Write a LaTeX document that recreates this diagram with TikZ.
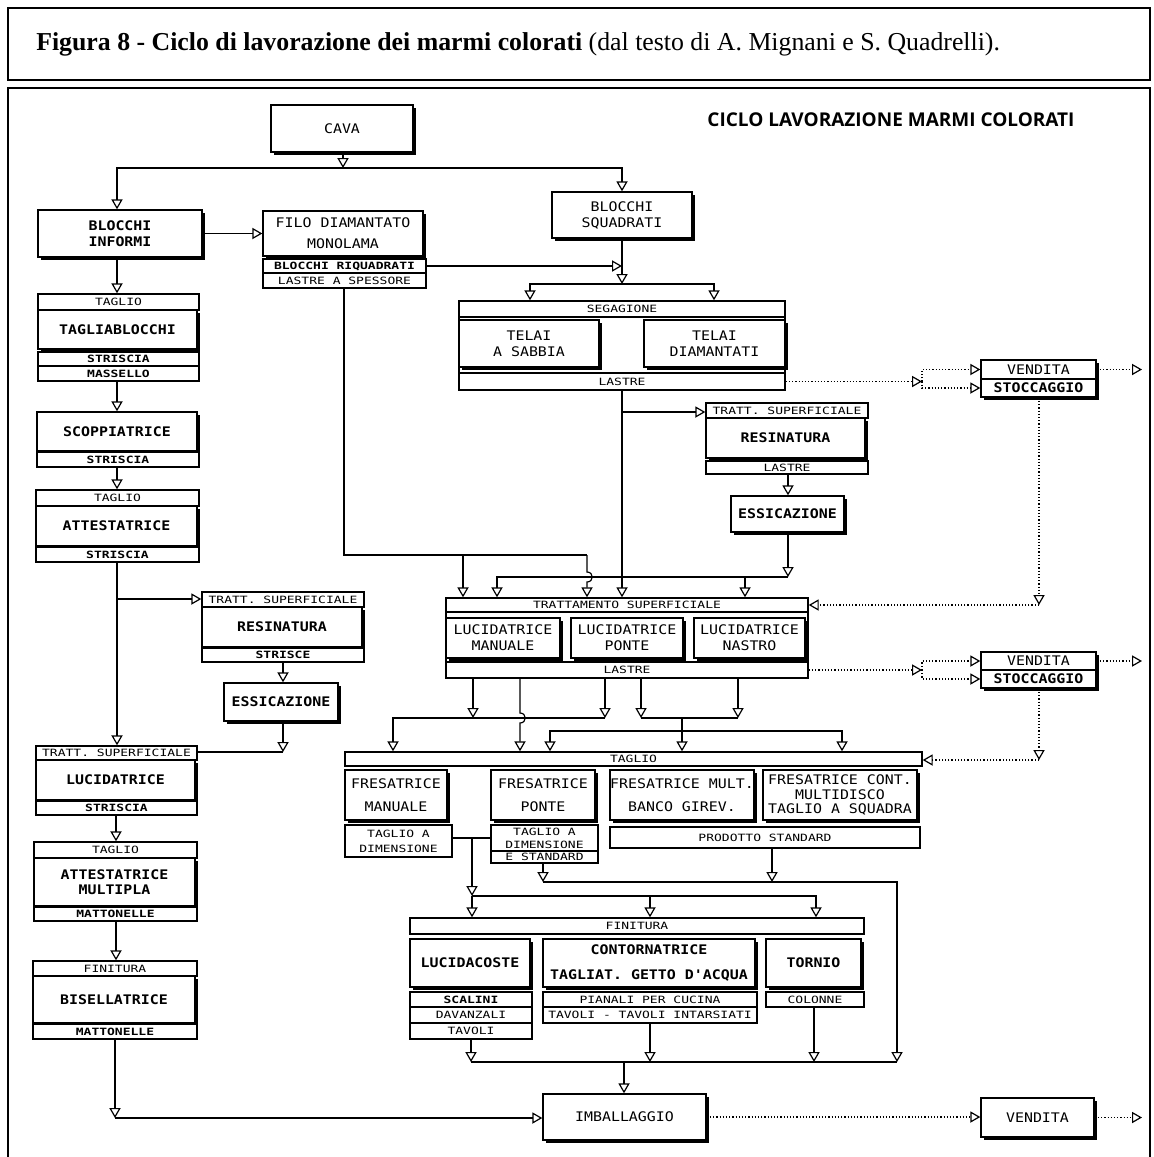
\documentclass[tikz,border=0pt]{standalone}
\usepackage{fontspec}
\setmainfont{Liberation Serif}
\newfontfamily\labfont[FakeStretch=1.13]{DejaVu Sans Mono}
\newfontfamily\sublabfont[FakeStretch=1.3]{DejaVu Sans Mono}
\newfontfamily\headfont{Open Sans}
\usetikzlibrary{arrows.meta,shadows}

% \mkbox{name}{style}{x1}{y1}{x2}{y2}{text}: box given by its corners
\newcommand\mkbox[7]{%
  \pgfmathsetmacro\mkw{(#5-#3)/2}%
  \pgfmathsetmacro\mkh{(#6-#4)/2}%
  \node[#2, minimum width=\mkw pt, minimum height=\mkh pt] (#1) at ({(#3+#5)/2},{(#4+#6)/2}) {#7};}

\begin{document}
\begin{tikzpicture}[x=0.5pt,y=-0.5pt,line width=0.6pt,
  base/.style={draw, fill=white, inner sep=0pt, align=center, line width=0.7pt},
  mainbox/.style={base, general shadow={fill=black, shadow xshift=1.7pt, shadow yshift=-1.7pt},
    font=\labfont\fontsize{6.6}{8}\selectfont},
  mainboxb/.style={mainbox, font=\labfont\bfseries\fontsize{6.6}{8}\selectfont},
  rowbox/.style={base, font=\sublabfont\fontsize{5}{6.5}\selectfont},
  rowboxb/.style={rowbox, font=\sublabfont\bfseries\fontsize{5}{6.5}\selectfont},
  arr/.style={-{Triangle[open,length=5pt,width=5.6pt]}},
  dotl/.style={dash pattern=on 0.6pt off 1pt},
  frame/.style={line width=0.9pt}]
\useasboundingbox (0,0) rectangle (1154,1157);

% frames and headings
\draw[frame] (8,8) rectangle (1150,80);
\draw[frame] (8,1157) -- (8,88) -- (1150,88) -- (1150,1157);
\node[anchor=west, font=\fontsize{12.9}{14}\selectfont] (title) at (29,44)
  {\textbf{Figura 8 - Ciclo di lavorazione dei marmi colorati} (dal testo di A. Mignani e S. Quadrelli).};
\node[font=\headfont\bfseries\fontsize{9.5}{10}\selectfont] (ciclo) at (891,120) {CICLO LAVORAZIONE MARMI COLORATI};

% top row
\mkbox{cava}{mainbox}{271}{105}{413}{152}{CAVA}
\mkbox{bi}{mainboxb}{38}{210}{202}{257}{BLOCCHI\\INFORMI}
\mkbox{filo}{mainbox}{263}{211}{423}{256}{FILO DIAMANTATO\\[2.5pt]MONOLAMA}
\mkbox{filo1}{rowboxb}{263}{259}{426}{273}{BLOCCHI RIQUADRATI}
\mkbox{filo2}{rowbox}{263}{273}{426}{288}{LASTRE A SPESSORE}
\mkbox{bs}{mainbox}{552}{192}{692}{238}{BLOCCHI\\SQUADRATI}

% segagione
\mkbox{seg}{base}{459}{301}{785}{390}{}
\mkbox{seghd}{rowbox}{459}{301}{785}{317}{SEGAGIONE}
\mkbox{telaiS}{mainbox}{459}{320}{599}{367}{TELAI\\A SABBIA}
\mkbox{telaiD}{mainbox}{644}{320}{785}{367}{TELAI\\DIAMANTATI}
\mkbox{segft}{rowbox}{459}{373}{785}{390}{LASTRE}

% resinatura (lastre)
\mkbox{res2h}{rowbox}{706}{403}{868}{418}{TRATT. SUPERFICIALE}
\mkbox{res2}{mainboxb}{706}{418}{865}{458}{RESINATURA}
\mkbox{res2f}{rowbox}{706}{461}{868}{474}{LASTRE}
\mkbox{ess2}{mainboxb}{731}{496}{844}{532}{ESSICAZIONE}

% sale / storage
\mkbox{ven1}{mainbox}{981}{360}{1096}{379}{VENDITA}
\mkbox{sto1}{mainboxb}{981}{379}{1096}{397}{STOCCAGGIO}
\mkbox{ven2}{mainbox}{981}{652}{1096}{670}{VENDITA}
\mkbox{sto2}{mainboxb}{981}{670}{1096}{688}{STOCCAGGIO}

% trattamento superficiale
\mkbox{tatt}{base}{446}{598}{808}{678}{}
\mkbox{tatthd}{rowbox}{446}{598}{808}{612}{TRATTAMENTO SUPERFICIALE}
\mkbox{lm}{mainbox}{446}{618}{560}{658}{LUCIDATRICE\\MANUALE}
\mkbox{lp}{mainbox}{571}{618}{683}{658}{LUCIDATRICE\\PONTE}
\mkbox{ln}{mainbox}{694}{618}{805}{658}{LUCIDATRICE\\NASTRO}
\mkbox{tattft}{rowbox}{446}{662}{808}{678}{LASTRE}

% taglio
\mkbox{taglio}{rowbox}{345}{752}{922}{766}{TAGLIO}
\mkbox{fm}{mainbox}{345}{770}{447}{820}{FRESATRICE\\[3.5pt]MANUALE}
\mkbox{fp}{mainbox}{491}{770}{595}{820}{FRESATRICE\\[3.5pt]PONTE}
\mkbox{fmb}{mainbox}{610}{770}{754}{820}{FRESATRICE MULT.\\[3.5pt]BANCO GIREV.}
\mkbox{fcm}{mainbox}{763}{770}{917}{820}{FRESATRICE CONT.\\[-0.7pt]MULTIDISCO\\[-0.7pt]TAGLIO A SQUADRA}
\mkbox{fms}{rowbox}{345}{825}{452}{857}{TAGLIO A\\[1pt]DIMENSIONE}
\mkbox{fps1}{rowbox}{491}{825}{598}{851}{TAGLIO A\\DIMENSIONE}
\mkbox{fps2}{rowbox}{491}{851}{598}{863}{E STANDARD}
\mkbox{ps}{rowbox}{610}{827}{920}{848}{PRODOTTO STANDARD}

% finitura
\mkbox{fin}{rowbox}{410}{918}{864}{934}{FINITURA}
\mkbox{lc}{mainboxb}{410}{939}{530}{987}{LUCIDACOSTE}
\mkbox{ct}{mainboxb}{543}{939}{755}{987}{CONTORNATRICE\\[4.5pt]TAGLIAT. GETTO D'ACQUA}
\mkbox{to1}{mainboxb}{766}{939}{861}{987}{TORNIO}
\mkbox{lc1}{rowboxb}{410}{992}{532}{1007}{SCALINI}
\mkbox{lc2}{rowbox}{410}{1007}{532}{1023}{DAVANZALI}
\mkbox{lc3}{rowbox}{410}{1023}{532}{1039}{TAVOLI}
\mkbox{ct1}{rowbox}{543}{992}{757}{1007}{PIANALI PER CUCINA}
\mkbox{ct2}{rowbox}{543}{1007}{757}{1023}{TAVOLI - TAVOLI INTARSIATI}
\mkbox{to2}{rowbox}{766}{992}{864}{1007}{COLONNE}

\mkbox{imb}{mainbox}{543}{1094}{706}{1140}{IMBALLAGGIO}
\mkbox{ven3}{mainbox}{981}{1098}{1094}{1137}{VENDITA}

% left column
\mkbox{g1h}{rowbox}{38}{294}{199}{310}{TAGLIO}
\mkbox{g1}{mainboxb}{38}{310}{197}{349}{TAGLIABLOCCHI}
\mkbox{g1r1}{rowboxb}{38}{352}{199}{366}{STRISCIA}
\mkbox{g1r2}{rowboxb}{38}{366}{199}{381}{MASSELLO}
\mkbox{scop}{mainboxb}{37}{412}{197}{451}{SCOPPIATRICE}
\mkbox{scopr}{rowboxb}{37}{452}{199}{467}{STRISCIA}
\mkbox{g3h}{rowbox}{36}{490}{199}{506}{TAGLIO}
\mkbox{g3}{mainboxb}{36}{506}{197}{546}{ATTESTATRICE}
\mkbox{g3r}{rowboxb}{36}{547}{199}{562}{STRISCIA}
\mkbox{res1h}{rowbox}{202}{592}{364}{607}{TRATT. SUPERFICIALE}
\mkbox{res1}{mainboxb}{202}{607}{362}{647}{RESINATURA}
\mkbox{res1r}{rowboxb}{202}{648}{364}{662}{STRISCE}
\mkbox{ess1}{mainboxb}{224}{683}{338}{721}{ESSICAZIONE}
\mkbox{g4h}{rowbox}{36}{746}{197}{760}{TRATT. SUPERFICIALE}
\mkbox{g4}{mainboxb}{36}{760}{195}{800}{LUCIDATRICE}
\mkbox{g4r}{rowboxb}{36}{801}{197}{815}{STRISCIA}
\mkbox{g5h}{rowbox}{34}{842}{197}{858}{TAGLIO}
\mkbox{g5}{mainboxb}{34}{858}{195}{906}{ATTESTATRICE\\[-0.5pt]MULTIPLA}
\mkbox{g5r}{rowboxb}{34}{907}{197}{921}{MATTONELLE}
\mkbox{g6h}{rowbox}{33}{961}{197}{976}{FINITURA}
\mkbox{g6}{mainboxb}{33}{976}{195}{1023}{BISELLATRICE}
\mkbox{g6r}{rowboxb}{33}{1024}{197}{1039}{MATTONELLE}

% ---------- connectors ----------
\coordinate (jc) at (343,168);
\coordinate (jcl) at (117,168);
\coordinate (jcr) at (622,168);
\draw[arr] (jc |- cava.south) -- (jc);
\draw[arr] (jc) -- (jcl) -- (jcl |- bi.north);
\draw[arr] (jc) -- (jcr) -- (jcr |- bs.north);
\draw[arr] (bi.east) -- (bi.east -| filo.west);

% left column chain
\coordinate (lx) at (117,0);
\coordinate (lx2) at (116,0);
\draw[arr] (lx |- bi.south) -- (lx |- g1h.north);
\draw[arr] (lx |- g1r2.south) -- (lx |- scop.north);
\draw[arr] (lx |- scopr.south) -- (lx |- g3h.north);
\draw[arr] (lx |- g3r.south) -- (lx |- g4h.north);
\coordinate (br) at (117,599);
\draw[arr] (br) -- (br -| res1h.west);
\coordinate (le) at (283,752);
\draw[arr] (le |- res1r.south) -- (le |- ess1.north);
\draw[arr] (le |- ess1.south) -- (le);
\draw (le) -- (le -| g4h.east);
\draw[arr] (lx2 |- g4r.south) -- (lx2 |- g5h.north);
\draw[arr] (lx2 |- g5r.south) -- (lx2 |- g6h.north);
\coordinate (h1) at (115,1118);
\draw[arr] (h1 |- g6r.south) -- (h1);
\draw[arr] (h1) -- (h1 -| imb.west);

% blocchi squadrati to segagione
\coordinate (jbs) at (622,284);
\draw[arr] (jcr |- bs.south) -- (jbs);
\draw[arr] (filo1.east) -- (filo1.east -| jbs);
\coordinate (jsl) at (530,284);
\coordinate (jsr) at (714,284);
\draw[arr] (jbs) -- (jsl) -- (jsl |- seg.north);
\draw[arr] (jbs) -- (jsr) -- (jsr |- seg.north);

% lastre from segagione
\coordinate (jr2) at (622,412);
\draw[arr] (jcr |- segft.south) -- (jcr |- tatt.north);
\draw[arr] (jr2) -- (jr2 -| res2h.west);
\coordinate (je2) at (788,577);
\draw[arr] (je2 |- res2f.south) -- (je2 |- ess2.north);
\draw[arr] (je2 |- ess2.south) -- (je2);
\coordinate (ja) at (497,577);
\coordinate (jb) at (745,577);
\draw[arr] (je2) -- (ja) -- (ja |- tatt.north);
\draw[arr] (jb) -- (jb |- tatt.north);

% lastre a spessore from the diamond wire
\coordinate (jf1) at (344,555);
\coordinate (jf2) at (463,555);
\coordinate (jf3) at (587,555);
\draw (jf1 |- filo2.south) -- (jf1) -- (jf3);
\draw[arr] (jf2) -- (jf2 |- tatt.north);
\draw[arr] (jf3) -- (587,572) .. controls (594,572) and (594,582) .. (587,582) -- (jf3 |- tatt.north);

% sale / storage branches
\coordinate (jv1) at (922,0);
\coordinate (vo) at (1142,0);
\draw[dotl,arr] (segft.east) -- (segft.east -| jv1);
\draw[dotl,arr] (segft.east -| jv1) -- (jv1 |- ven1.west) -- (ven1.west);
\draw[dotl,arr] (segft.east -| jv1) -- (jv1 |- sto1.west) -- (sto1.west);
\draw[dotl,arr] (ven1.east) -- (ven1.east -| vo);
\coordinate (k1) at (1039,605);
\draw[dotl,arr] (k1 |- sto1.south) -- (k1);
\draw[dotl,arr] (k1) -- (k1 -| tatt.east);

\draw[dotl,arr] (tattft.east) -- (tattft.east -| jv1);
\draw[dotl,arr] (tattft.east -| jv1) -- (jv1 |- ven2.west) -- (ven2.west);
\draw[dotl,arr] (tattft.east -| jv1) -- (jv1 |- sto2.west) -- (sto2.west);
\draw[dotl,arr] (ven2.east) -- (ven2.east -| vo);
\coordinate (k2) at (1039,760);
\draw[dotl,arr] (k2 |- sto2.south) -- (k2);
\draw[dotl,arr] (k2) -- (k2 -| taglio.east);

% trattamento to taglio
\coordinate (a0) at (393,718);
\coordinate (a1) at (473,718);
\coordinate (a2) at (605,718);
\coordinate (a3) at (520,718);
\draw[arr] (a1 |- tattft.south) -- (a1);
\draw[arr] (a2 |- tattft.south) -- (a2);
\draw[arr] (a2) -- (a0) -- (a0 |- taglio.north);
\draw[arr] (a3 |- tattft.south) -- (520,713) .. controls (527,713) and (527,723) .. (520,723) -- (a3 |- taglio.north);
\coordinate (b1) at (641,718);
\coordinate (b2) at (738,718);
\coordinate (b0) at (682,718);
\coordinate (c0) at (682,731);
\coordinate (c1) at (550,731);
\coordinate (c2) at (842,731);
\draw[arr] (b1 |- tattft.south) -- (b1);
\draw[arr] (b2 |- tattft.south) -- (b2);
\draw (b1) -- (b2);
\draw[arr] (b0) -- (b0 |- taglio.north);
\draw[arr] (c0) -- (c1) -- (c1 |- taglio.north);
\draw[arr] (c0) -- (c2) -- (c2 |- taglio.north);

% taglio to finitura
\coordinate (d0) at (472,838);
\coordinate (d1) at (472,896);
\draw (d0 -| fms.east) -- (d0 -| fps1.west);
\draw[arr] (d0) -- (d1);
\coordinate (g1c) at (650,896);
\coordinate (g2c) at (816,896);
\draw[arr] (d1) -- (d1 |- fin.north);
\draw[arr] (d1) -- (g2c) -- (g2c |- fin.north);
\draw[arr] (g1c) -- (g1c |- fin.north);
\coordinate (e1) at (543,882);
\coordinate (e2) at (772,882);
\coordinate (e3) at (897,882);
\coordinate (f3) at (897,1062);
\draw[arr] (e1 |- fps2.south) -- (e1);
\draw[arr] (e2 |- ps.south) -- (e2);
\draw[arr] (e1) -- (e3) -- (f3);

% finitura to imballaggio
\coordinate (f0) at (471,1062);
\coordinate (f1) at (650,1062);
\coordinate (f2) at (814,1062);
\coordinate (fmid) at (624,1062);
\draw[arr] (f0 |- lc3.south) -- (f0);
\draw[arr] (f1 |- ct2.south) -- (f1);
\draw[arr] (f2 |- to2.south) -- (f2);
\draw (f0) -- (f3);
\draw[arr] (fmid) -- (fmid |- imb.north);
\draw[dotl,arr] (imb.east) -- (imb.east -| ven3.west);
\draw[dotl,arr] (ven3.east) -- (ven3.east -| vo);
\end{tikzpicture}
\end{document}
